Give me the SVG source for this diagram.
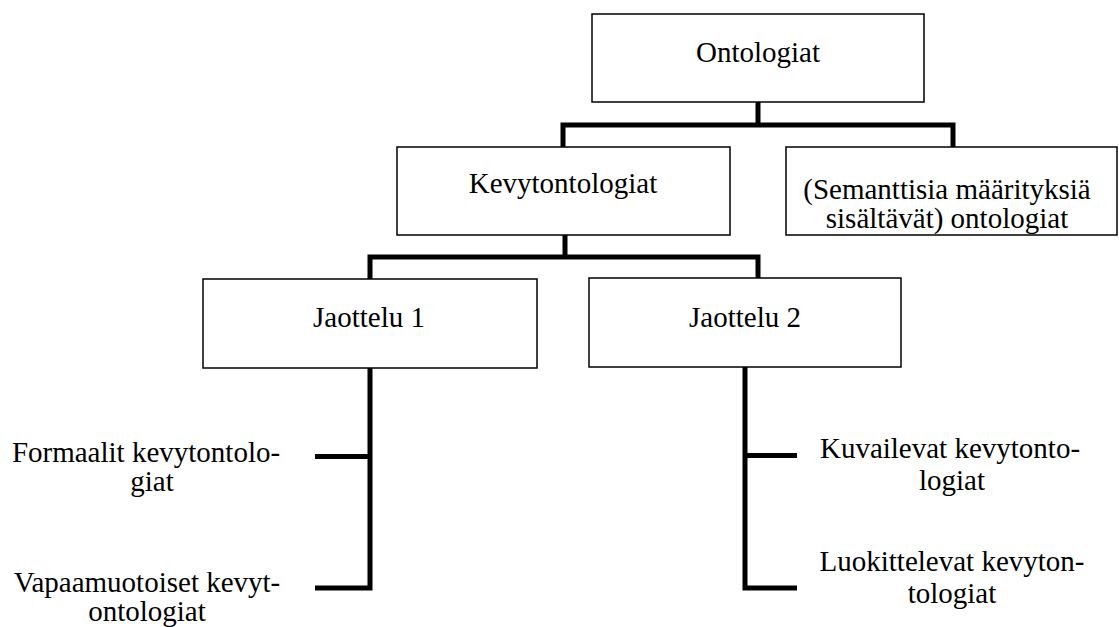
<svg xmlns="http://www.w3.org/2000/svg" width="1119" height="627" viewBox="0 0 1119 627">
<style>
.box{fill:#fff;stroke:#000;stroke-width:1.5}
.t{font-family:'Liberation Serif',Tinos,'Times New Roman',Times,'Nimbus Roman','DejaVu Serif','Noto Serif',serif;font-size:29px;fill:#000;text-anchor:middle}
.c{fill:none;stroke:#000;stroke-width:5;stroke-linejoin:miter;stroke-linecap:butt}
</style>
<rect width="1119" height="627" fill="#fff"/>
<g id="connectors">
<polyline class="c" points="758,102 758,125"/>
<polyline class="c" points="563,147 563,125 953,125 953,147"/>
<polyline class="c" points="565,235 565,257"/>
<polyline class="c" points="370,279 370,257 758,257 758,278"/>
<polyline class="c" points="370,368 370,588 315,588"/>
<polyline class="c" points="315,456.5 370,456.5"/>
<polyline class="c" points="745,367 745,588 797,588"/>
<polyline class="c" points="745,455.5 797,455.5"/>
</g>
<g id="ontologiat">
<rect class="box" x="592" y="14" width="332" height="88"/>
<text class="t" x="758" y="62" font-family="Liberation Serif, serif">Ontologiat</text>
</g>
<g id="kevytontologiat">
<rect class="box" x="397" y="147" width="333" height="88"/>
<text class="t" x="563" y="193">Kevytontologiat</text>
</g>
<g id="semanttiset">
<rect class="box" x="786" y="147" width="331" height="88"/>
<text class="t" x="947" y="199">(Semanttisia määrityksiä</text>
<text class="t" x="947" y="228">sisältävät) ontologiat</text>
</g>
<g id="jaottelu1">
<rect class="box" x="203" y="279" width="334" height="89"/>
<text class="t" x="369" y="327">Jaottelu 1</text>
</g>
<g id="jaottelu2">
<rect class="box" x="589" y="278" width="312" height="89"/>
<text class="t" x="745" y="327">Jaottelu 2</text>
</g>
<g id="formaalit">
<text class="t" x="146" y="462">Formaalit kevytontolo-</text>
<text class="t" x="152" y="491">giat</text>
</g>
<g id="vapaamuotoiset">
<text class="t" x="147" y="592">Vapaamuotoiset kevyt-</text>
<text class="t" x="147" y="621">ontologiat</text>
</g>
<g id="kuvailevat">
<text class="t" x="950" y="458">Kuvailevat kevytonto-</text>
<text class="t" x="952" y="490">logiat</text>
</g>
<g id="luokittelevat">
<text class="t" x="952" y="571">Luokittelevat kevyton-</text>
<text class="t" x="952" y="603">tologiat</text>
</g>
</svg>
